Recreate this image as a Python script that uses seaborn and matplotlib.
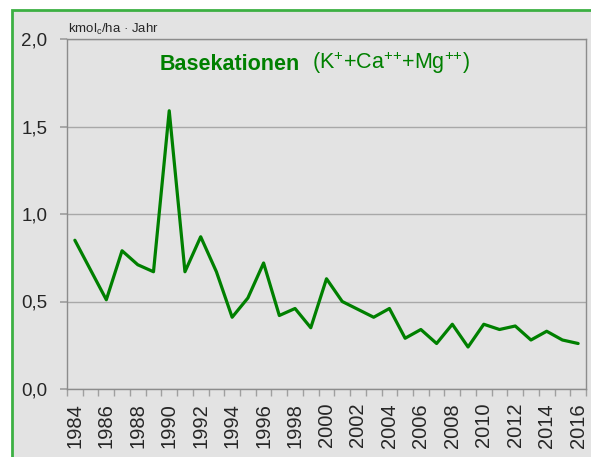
import numpy as np
import pandas as pd
import matplotlib
matplotlib.use("Agg")
import matplotlib.pyplot as plt
import matplotlib.patches as mpatches
from matplotlib.ticker import FuncFormatter, MultipleLocator
import seaborn as sns

# ── Daten ────────────────────────────────────────────────────────────────────
years = list(range(1984, 2017))
basekationen = [0.85, 0.68, 0.51, 0.79, 0.71, 0.67, 1.59, 0.67, 0.87, 0.67,
                0.41, 0.52, 0.72, 0.42, 0.46, 0.35, 0.63, 0.50, 0.455, 0.41,
                0.46, 0.29, 0.34, 0.26, 0.37, 0.24, 0.37, 0.34, 0.36, 0.28,
                0.33, 0.28, 0.26]
df = pd.DataFrame({"Jahr": years, "Wert": basekationen})

sns.set_theme(style="white")
plt.rcParams["font.family"] = ["Liberation Sans", "DejaVu Sans"]
plt.rcParams["mathtext.fontset"] = "custom"
plt.rcParams["mathtext.rm"] = "Liberation Sans"
plt.rcParams["mathtext.it"] = "Liberation Sans"

BG = "#e3e3e3"
GREEN = "#008000"

fig = plt.figure(figsize=(5.91, 4.57), dpi=100, facecolor="white")
# grüner Rahmen (Ausschnitt)
fig.patches.append(mpatches.Rectangle((12 / 591, -0.2), 1.2, 1.2 - 10 / 457,
                                      transform=fig.transFigure, facecolor=BG,
                                      edgecolor="#3cb043", linewidth=2, zorder=-5))

ax = fig.add_axes([67 / 591, 1 - 389 / 457, 519 / 591, 350 / 457])
ax.set_facecolor(BG)

sns.lineplot(data=df, x="Jahr", y="Wert", color=GREEN, linewidth=2.3, ax=ax)

ax.set_xlim(1983.5, 2016.5)
ax.set_ylim(0, 2.0)
ax.yaxis.set_major_locator(MultipleLocator(0.5))
ax.yaxis.set_major_formatter(FuncFormatter(lambda v, p: f"{v:.1f}".replace(".", ",")))
ax.set_xticks(years[::2])
ax.set_xticks(np.arange(1983.5, 2017, 1), minor=True)
ax.set_xticklabels([str(y) for y in years[::2]], rotation=90, fontsize=14.5)
ax.tick_params(axis="x", which="major", length=0, pad=10)
ax.tick_params(axis="x", which="minor", length=5, color="#a0a0a0", direction="out", bottom=True)
ax.tick_params(axis="y", length=5, color="#a0a0a0", direction="out", left=True,
               labelsize=13.5, pad=9)
ax.grid(axis="y", color="#a8a8a8", linewidth=1)
ax.set_axisbelow(True)
for s in ax.spines.values():
    s.set_color("#8c8c8c")
    s.set_linewidth(1)
ax.set_xlabel("")
ax.set_ylabel("")

fig.text(68 / 591, 1 - 29 / 457, r"kmol$_\mathrm{c}$/ha · Jahr", fontsize=9.5,
         va="center", ha="left")
fig.text(160 / 591, 1 - 65 / 457, "Basekationen", fontsize=15.5, fontweight="bold",
         color=GREEN, va="center", ha="left")
fig.text(312 / 591, 1 - 63 / 457, r"(K$^{+}$+Ca$^{{+}{+}}$+Mg$^{{+}{+}}$)", fontsize=15.5,
         color=GREEN, va="center", ha="left")

plt.savefig("out.png", dpi=100)
plt.close()
